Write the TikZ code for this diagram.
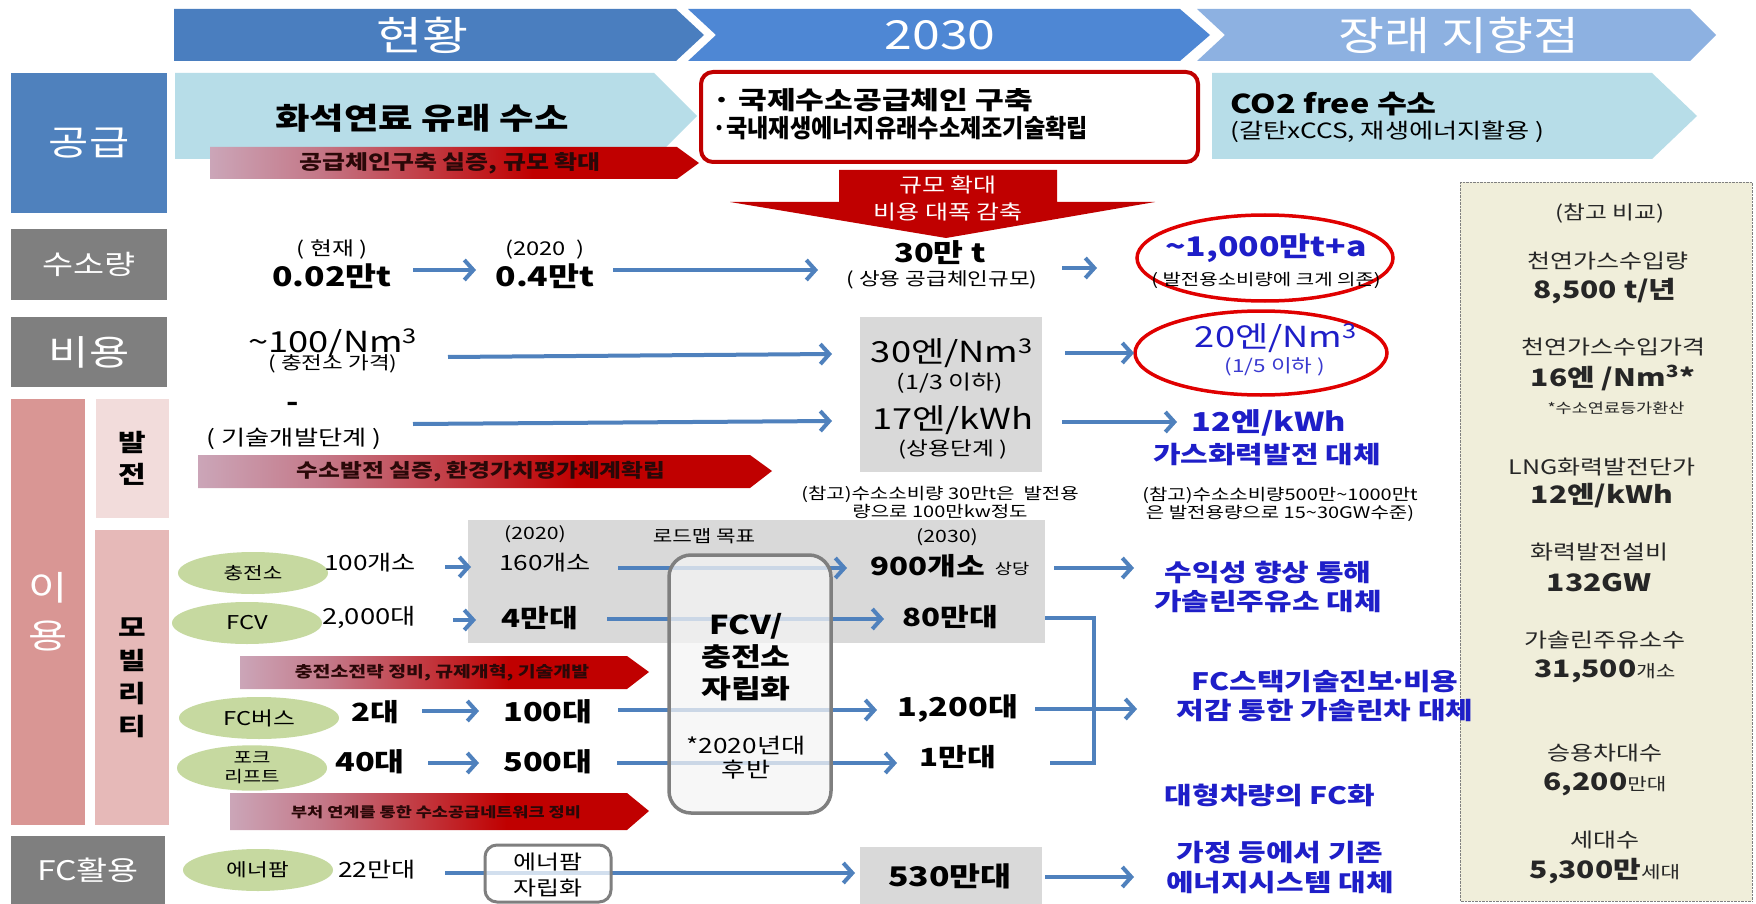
\documentclass[tikz,border=0pt]{standalone}
\usepackage{fontspec}
\usepackage{graphicx}
\setmainfont{Noto Sans CJK KR}[FakeStretch=1.25]
\usetikzlibrary{arrows.meta,shapes.geometric}
\definecolor{hdA}{HTML}{4A7EBF}
\definecolor{hdB}{HTML}{4E87D4}
\definecolor{hdC}{HTML}{8DB1E1}
\definecolor{supC}{HTML}{4F81BD}
\definecolor{grayL}{HTML}{7F7F7F}
\definecolor{useC}{HTML}{D99694}
\definecolor{genC}{HTML}{F2DCDB}
\definecolor{mobC}{HTML}{E6B9B8}
\definecolor{bandC}{HTML}{B7DDE8}
\definecolor{redC}{HTML}{C00000}
\definecolor{ringC}{HTML}{E00000}
\definecolor{gboxC}{HTML}{D9D9D9}
\definecolor{ellC}{HTML}{C6D9A0}
\definecolor{arrC}{HTML}{4F81BD}
\definecolor{blueT}{HTML}{1E1EC8}
\definecolor{blueL}{HTML}{3A3AD0}
\definecolor{panC}{HTML}{F0EEDA}
\definecolor{gradL}{HTML}{DCE2F2}
\definecolor{gradK}{HTML}{D2D3E8}
\definecolor{gradM}{HTML}{C47888}
\definecolor{barT}{HTML}{2A0808}
\definecolor{boxG}{HTML}{7F7F7F}
\pgfdeclarehorizontalshading{redgrad}{100bp}{color(0bp)=(gradL); color(14bp)=(gradK); color(36bp)=(gradM); color(58bp)=(redC); color(100bp)=(redC)}
\newcommand\fsz[1]{\fontsize{#1}{#1}\selectfont}
\begin{document}
\begin{tikzpicture}[x=1pt,y=-1pt,
  t/.style={inner sep=0pt},
  lbl/.style={inner sep=0pt,text=white},
  lbox/.style={inner sep=0pt,text=white},
  arr/.style={draw=arrC,line width=4pt,-{Straight Barb[length=9pt,width=20pt]}},
  bartxt/.style={inner sep=0pt,text=barT,font=\fsz{19}\bfseries},
  oval/.style={ellipse,fill=ellC,inner sep=0pt,minimum width=150pt,minimum height=42pt},
  bl/.style={inner sep=0pt,text=blueT,font=\fontsize{24}{29}\selectfont\bfseries,align=center},
  pan/.style={inner sep=0pt,font=\fsz{20},text=black!85},
  panb/.style={inner sep=0pt,font=\fsz{24}\bfseries,text=black!85},
  ring/.style={draw=ringC,line width=3.5pt}
]
\useasboundingbox (0,0) rectangle (1756,904);
\fill[white] (0,0) rectangle (1756,904);
% ---------- header chevrons
\fill[hdA] (174,9) -- (676,9) -- (704,35) -- (676,61) -- (174,61) -- cycle;
\fill[hdB] (688,9) -- (1180,9) -- (1210,35) -- (1180,61) -- (688,61) -- (716,35) -- cycle;
\fill[hdC] (1197,9) -- (1690,9) -- (1716,35) -- (1690,61) -- (1197,61) -- (1225,35) -- cycle;
\node[lbl,font=\fsz{40}] (h1) at (422,35) {현황};
\node[lbl,font=\fsz{40}] (h2) at (940,35) {2030};
\node[lbl,font=\fsz{40}] (h3) at (1459,35) {장래 지향점};
% ---------- left labels
\node[lbox,fill=supC,minimum width=156pt,minimum height=140pt,font=\fsz{35}] (lsup) at (89,143) {공급};
\node[lbox,fill=grayL,minimum width=156pt,minimum height=71pt,font=\fsz{27}] (lamt) at (89,264.5) {수소량};
\node[lbox,fill=grayL,minimum width=156pt,minimum height=70pt,font=\fsz{35}] (lcost) at (89,352) {비용};
\node[lbox,fill=useC,minimum width=74pt,minimum height=426pt,font=\fontsize{34}{48}\selectfont,align=center] (luse) at (48,612) {이\\용};
\node[inner sep=0pt,fill=genC,minimum width=73pt,minimum height=119pt,font=\fontsize{24}{32}\selectfont\bfseries,align=center] (lgen) at (132.5,458.5) {발\\전};
\node[inner sep=0pt,fill=mobC,minimum width=74pt,minimum height=295pt,font=\fontsize{24}{33}\selectfont\bfseries,align=center] (lmob) at (132,677.5) {모\\빌\\리\\티};
\node[lbox,fill=grayL,minimum width=154pt,minimum height=68pt,font=\fsz{27}] (lfc) at (88,870) {FC활용};
% ---------- supply row
\fill[bandC] (175,73) -- (654,73) -- (697,116) -- (654,159) -- (175,159) -- cycle;
\node[t,font=\fsz{30}\bfseries] (fossil) at (422,118) {화석연료 유래 수소};
\shade[shading=redgrad] (210,147) -- (677,147) -- (699,163) -- (677,179) -- (210,179) -- cycle;
\node[bartxt,font=\fsz{20}\bfseries] (bar1) at (450,163) {공급체인구축 실증, 규모 확대};
\draw[redC,line width=4pt,fill=white,rounded corners=12pt] (701,72) rectangle (1198,162);
\node[t,font=\fsz{25}\bfseries,anchor=west] (sup1) at (712,100) {· 국제수소공급체인 구축};
\node[t,font=\fsz{25}\bfseries,anchor=west] (sup2) at (712,128) {\scalebox{0.74}[1]{·국내재생에너지유래수소제조기술확립}};
\fill[bandC] (1212,73) -- (1652,73) -- (1697,116) -- (1652,159) -- (1212,159) -- cycle;
\node[t,anchor=west,font=\fsz{26}\bfseries] (co2) at (1230,104) {CO2 free 수소};
\node[t,anchor=west,font=\fsz{21}] (co2s) at (1230,132) {(갈탄xCCS, 재생에너지활용 )};
\fill[redC] (839,170) -- (1057,170) -- (1057,202) -- (1155,202) -- (946,238) -- (730,202) -- (839,202) -- cycle;
\node[t,text=white,font=\fontsize{20}{27}\selectfont,align=center] (scale) at (948,198) {규모 확대\\비용 대폭 감축};
% ---------- reference panel (under texts)
\draw[densely dotted,gray,fill=panC] (1460,182) rectangle (1752,901);
% ---------- amount row
\node[t,font=\fsz{19}] (nowl) at (332,250) {( 현재 )};
\node[t,font=\fsz{27}\bfseries] (v002) at (332,276) {0.02만t};
\node[t,font=\fsz{19}] (y20l) at (545,250) {(2020\ \ )};
\node[t,font=\fsz{27}\bfseries] (v04) at (545,276) {0.4만t};
\node[t,font=\fsz{26}\bfseries] (v30) at (940,253) {30만 t};
\node[t,font=\fsz{18}] (v30s) at (942,280) {( 상용 공급체인규모)};
\draw[ring] (1265,258) ellipse [x radius=128, y radius=43];
\node[t,text=blueT,font=\fsz{27}\bfseries] (v1000) at (1266,248) {\textasciitilde1,000만t+a};
\node[t,font=\fsz{16}] (v1000s) at (1266,280) {( 발전용소비량에 크게 의존)};
% ---------- cost row
\node[t,font=\fsz{29}] (c100) at (333,343) {\textasciitilde100/Nm\textsuperscript{3}};
\node[t,font=\fsz{18}] (c100s) at (333,364) {( 충전소 가격)};
\fill[gboxC] (860,317) rectangle (1042,472);
\node[t,font=\fsz{29}] (c30) at (952,353) {30엔/Nm\textsuperscript{3}};
\node[t,font=\fsz{20}] (c30s) at (950,383) {(1/3 이하)};
\node[t,font=\fsz{29}] (c17) at (953,420) {17엔/kWh};
\node[t,font=\fsz{19}] (c17s) at (953,450) {(상용단계 )};
\draw[ring] (1261,353) ellipse [x radius=126, y radius=42];
\node[t,text=blueT,font=\fsz{29}] (c20) at (1276,338) {20엔/Nm\textsuperscript{3}};
\node[t,text=blueL,font=\fsz{18}] (c20s) at (1275,367) {(1/5 이하 )};
% ---------- generation row
\node[t,font=\fsz{26}\bfseries] (gdash) at (293,407) {-};
\node[t,font=\fsz{21}] (gdev) at (294,439) {( 기술개발단계 )};
\shade[shading=redgrad] (198,455) -- (750,455) -- (772,471) -- (750,488) -- (198,488) -- cycle;
\node[bartxt] (bar2) at (481,472) {수소발전 실증, 환경가치평가체계확립};
\node[t,text=blueT,font=\fsz{26}\bfseries] (g12) at (1269,423) {12엔/kWh};
\node[t,text=blueT,font=\fsz{24}\bfseries] (g12s) at (1267,454) {가스화력발전 대체};
\node[t,font=\fontsize{16}{18}\selectfont,align=center] (gref1) at (940,502) {(참고)수소소비량 30만t은\ \ 발전용\\량으로 100만kw정도};
\node[t,font=\fontsize{16}{18}\selectfont,align=center] (gref2) at (1280,504) {(참고)수소소비량500만\textasciitilde1000만t\\은 발전용량으로 15\textasciitilde30GW수준)};
% ---------- mobility row
\fill[gboxC] (468,520) rectangle (1045,643);
\node[oval,font=\fsz{17}] (e1) at (253,573) {충전소};
\node[t,font=\fsz{21}] (m100) at (370,563) {100개소};
\node[t,font=\fsz{17}] (m2020) at (535,534) {(2020)};
\node[t,font=\fsz{21}] (m160) at (545,563) {160개소};
\node[t,font=\fsz{17}] (mroad) at (704,536) {로드맵 목표};
\node[t,font=\fsz{17}] (m2030) at (947,537) {(2030)};
\node[t,font=\fsz{25}\bfseries] (m900) at (928,566) {900개소};
\node[t,font=\fsz{15}] (msd) at (1012,569) {상당};
\node[oval,font=\fsz{19}] (e2) at (247,623) {FCV};
\node[t,font=\fsz{22}] (m2000) at (369,617) {2,000대};
\node[t,font=\fsz{25}\bfseries] (m4) at (540,618) {4만대};
\node[t,font=\fsz{25}\bfseries] (m80) at (950,617) {80만대};
\shade[shading=redgrad] (240,656) -- (627,656) -- (649,672) -- (627,689) -- (240,689) -- cycle;
\node[bartxt,font=\fsz{15.5}\bfseries] (bar3) at (442,673) {충전소전략 정비, 규제개혁, 기술개발};
\node[oval,minimum width=160pt,font=\fsz{19}] (e3) at (259,718) {FC버스};
\node[t,font=\fsz{25}\bfseries] (m2) at (375,712) {2대};
\node[t,font=\fsz{26}\bfseries] (m100b) at (548,712) {100대};
\node[t,font=\fsz{26}\bfseries] (m1200) at (958,708) {1,200대};
\node[oval,align=center,font=\fontsize{16}{19}\selectfont] (e4) at (252,768) {포크\\리프트};
\node[t,font=\fsz{26}\bfseries] (m40) at (370,762) {40대};
\node[t,font=\fsz{26}\bfseries] (m500) at (548,762) {500대};
\node[t,font=\fsz{25}\bfseries] (m1) at (958,757) {1만대};
\shade[shading=redgrad] (230,793) -- (627,793) -- (649,811) -- (627,830) -- (230,830) -- cycle;
\node[bartxt,font=\fsz{14}\bfseries] (bar4) at (436,812) {부처 연계를 통한 수소공급네트워크 정비};
% ---------- FC row
\node[oval,font=\fsz{18}] (e5) at (258,870) {에너팜};
\node[t,font=\fsz{21}] (f22) at (377,870) {22만대};
\fill[gboxC] (860,847) rectangle (1042,904);
\node[t,font=\fsz{27}\bfseries] (f530) at (950,876) {530만대};
% ---------- arrows
\coordinate (a1s) at (413,270); \coordinate (a1e) at (476,270);
\coordinate (a2s) at (613,270); \coordinate (a2e) at (818,270);
\coordinate (a3s) at (1062,268); \coordinate (a3e) at (1097,268);
\coordinate (a4s) at (448,357); \coordinate (a4e) at (832,354);
\coordinate (a5s) at (1065,353); \coordinate (a5e) at (1134,353);
\coordinate (a6s) at (413,424); \coordinate (a6e) at (832,421);
\coordinate (a7s) at (1062,422); \coordinate (a7e) at (1177,422);
\coordinate (a8s) at (445,567); \coordinate (a8e) at (471,567);
\coordinate (a9s) at (618,568); \coordinate (a9e) at (847,568);
\coordinate (a10s) at (1054,568); \coordinate (a10e) at (1134,568);
\coordinate (a11s) at (453,620); \coordinate (a11e) at (476,620);
\coordinate (a12s) at (607,619); \coordinate (a12e) at (884,619);
\coordinate (a13s) at (422,711); \coordinate (a13e) at (479,711);
\coordinate (a14s) at (618,710); \coordinate (a14e) at (877,710);
\coordinate (a15s) at (1035,709); \coordinate (a15e) at (1137,709);
\coordinate (a16s) at (428,763); \coordinate (a16e) at (479,763);
\coordinate (a17s) at (617,763); \coordinate (a17e) at (897,763);
\coordinate (a18s) at (445,873); \coordinate (a18e) at (855,873);
\coordinate (a19s) at (1045,877); \coordinate (a19e) at (1134,877);
\coordinate (b1) at (1045,618); \coordinate (b2) at (1094,618);
\coordinate (b3) at (1094,763); \coordinate (b4) at (1050,763);
\foreach \i in {1,...,19} {\draw[arr] (a\i s) -- (a\i e);}
\draw[draw=arrC,line width=4pt] (b1) -- (b2) -- (b3) -- (b4);
% ---------- overlay boxes
\draw[draw=boxG,line width=3.5pt,fill=gray!8,fill opacity=0.75,rounded corners=22pt] (669,555) rectangle (831,813);
\node[t,font=\fontsize{26}{32}\selectfont\bfseries,align=center] (fcvb) at (746,657) {FCV/\\충전소\\자립화};
\node[t,font=\fontsize{21}{24}\selectfont,align=center] (fcvn) at (746,758) {*2020년대\\후반};
\draw[draw=boxG,line width=3pt,fill=white,fill opacity=0.75,rounded corners=12pt] (485,845) rectangle (611,902);
\node[t,font=\fontsize{20}{26}\selectfont,align=center] (fenb) at (548,875) {에너팜\\자립화};
% ---------- right-hand outcomes
\node[bl] (r1) at (1268,587) {수익성 향상 통해\\가솔린주유소 대체};
\node[bl] (r2) at (1325,696) {FC스택기술진보\makebox[8pt]{·}비용\\저감 통한 가솔린차 대체};
\node[bl] (r3) at (1270,795) {대형차량의 FC화};
\node[bl,font=\fontsize{24}{30}\selectfont\bfseries] (r4) at (1280,868) {가정 등에서 기존\\에너지시스템 대체};
% ---------- reference panel texts
\node[pan,font=\fsz{19}] (p0) at (1610,213) {(참고 비교)};
\node[pan] (p1) at (1608,261) {천연가스수입량};
\node[panb] (p1v) at (1605,291) {8,500 t/년};
\node[pan] (p2) at (1613,347) {천연가스수입가격};
\node[panb] (p2v) at (1613,378) {16엔 /Nm\textsuperscript{3}*};
\node[pan,font=\fsz{14}] (p2n) at (1616,408) {*수소연료등가환산};
\node[pan] (p3) at (1602,467) {LNG화력발전단가};
\node[panb] (p3v) at (1602,496) {12엔/kWh};
\node[pan] (p4) at (1599,552) {화력발전설비};
\node[panb] (p4v) at (1599,583) {132GW};
\node[pan] (p5) at (1605,640) {가솔린주유소수};
\node[panb] (p5v) at (1605,671) {31,500{\fsz{17}\mdseries 개소}};
\node[pan] (p6) at (1605,753) {승용차대수};
\node[panb] (p6v) at (1605,784) {6,200{\fsz{17}\mdseries 만대}};
\node[pan] (p7) at (1605,840) {세대수};
\node[panb] (p7v) at (1605,871) {5,300만{\fsz{17}\mdseries 세대}};
\end{tikzpicture}
\end{document}
